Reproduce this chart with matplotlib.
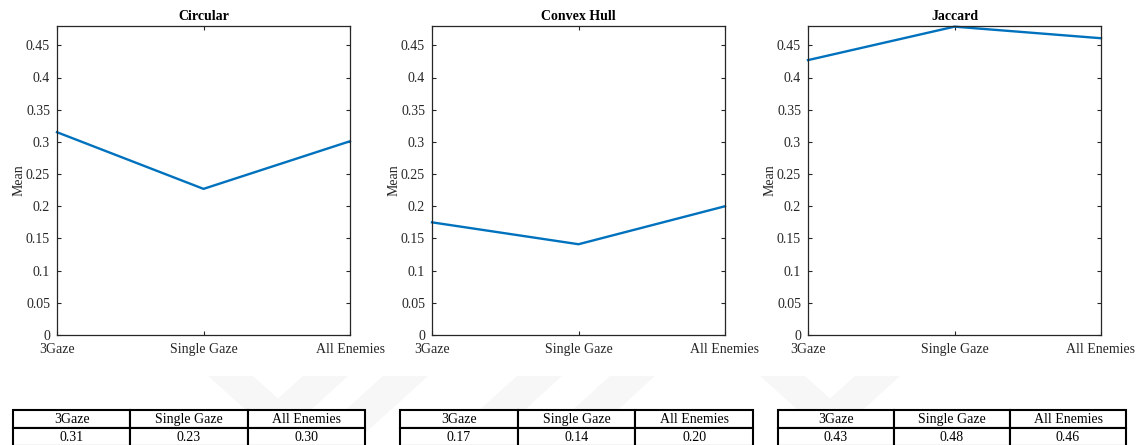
import matplotlib
matplotlib.use("Agg")
import matplotlib.pyplot as plt
from matplotlib.patches import Polygon
from matplotlib.ticker import FuncFormatter, MultipleLocator

# data
categories = ["3Gaze", "Single Gaze", "All Enemies"]
titles = ["Circular", "Convex Hull", "Jaccard"]
circular = [0.315, 0.227, 0.301]
convex_hull = [0.175, 0.141, 0.200]
jaccard = [0.427, 0.479, 0.461]
table_circular = ["0.31", "0.23", "0.30"]
table_convex = ["0.17", "0.14", "0.20"]
table_jaccard = ["0.43", "0.48", "0.46"]

series = [circular, convex_hull, jaccard]
tables = [table_circular, table_convex, table_jaccard]

plt.rcParams["font.family"] = ["Liberation Serif", "DejaVu Serif"]
W, H = 1143, 445
fig = plt.figure(figsize=(W / 100, H / 100), dpi=100)

# faint watermark bands behind the tables
def px(x, y):
    return (x / W, 1 - y / H)

bands = [
    [(208, 376), (253, 376), (330, 445), (285, 445)],
    [(303, 376), (348, 376), (272, 445), (227, 445)],
    [(383, 376), (428, 376), (352, 445), (307, 445)],
    [(517, 376), (562, 376), (486, 445), (441, 445)],
    [(610, 376), (655, 376), (579, 445), (534, 445)],
    [(760, 376), (805, 376), (882, 445), (837, 445)],
    [(855, 376), (900, 376), (824, 445), (779, 445)],
]
for b in bands:
    fig.patches.append(Polygon([px(*p) for p in b], closed=True,
                               transform=fig.transFigure, color="#f7f7f7",
                               zorder=-5, lw=0))

ax_left = [57, 432, 808]
ax_w = 293
ax_top, ax_bot = 26, 335
tbl_left = [13, 400, 778]
tbl_w = [352, 353, 348]
edge = "#262626"

x = list(range(1, len(categories) + 1))
for i in range(3):
    ax = fig.add_axes([ax_left[i] / W, 1 - ax_bot / H, ax_w / W, (ax_bot - ax_top) / H])
    ax.plot(x, series[i], color="#0072BD", lw=1.7, clip_on=False)
    ax.set_xlim(1, 3)
    ax.set_ylim(0, 0.48)
    ax.set_xticks(x)
    ax.set_xticklabels(categories)
    ax.yaxis.set_major_locator(MultipleLocator(0.05))
    ax.yaxis.set_major_formatter(FuncFormatter(lambda v, p: "%g" % round(v, 2)))
    ax.tick_params(direction="in", length=3, width=0.8, colors=edge,
                   labelsize=10, top=True, right=True)
    ax.tick_params(axis="y", pad=5)
    ax.tick_params(axis="x", pad=6)
    for s in ax.spines.values():
        s.set_color(edge)
        s.set_linewidth(0.9)
    ax.set_title(titles[i], fontsize=10, fontweight="bold", pad=4)
    ax.set_ylabel("Mean", fontsize=10, color=edge, labelpad=0)

    # table underneath
    tax = fig.add_axes([tbl_left[i] / W, 1 - 446 / H, tbl_w[i] / W, 36 / H], zorder=5)
    tax.axis("off")
    tb = tax.table(cellText=[categories, tables[i]], cellLoc="center",
                   bbox=[0, 0, 1, 1])
    tb.auto_set_font_size(False)
    tb.set_fontsize(10)
    for cell in tb.get_celld().values():
        cell.set_linewidth(1.5)
        cell.set_edgecolor("black")
        cell.set_facecolor("white")

fig.savefig("out.png", dpi=100)
